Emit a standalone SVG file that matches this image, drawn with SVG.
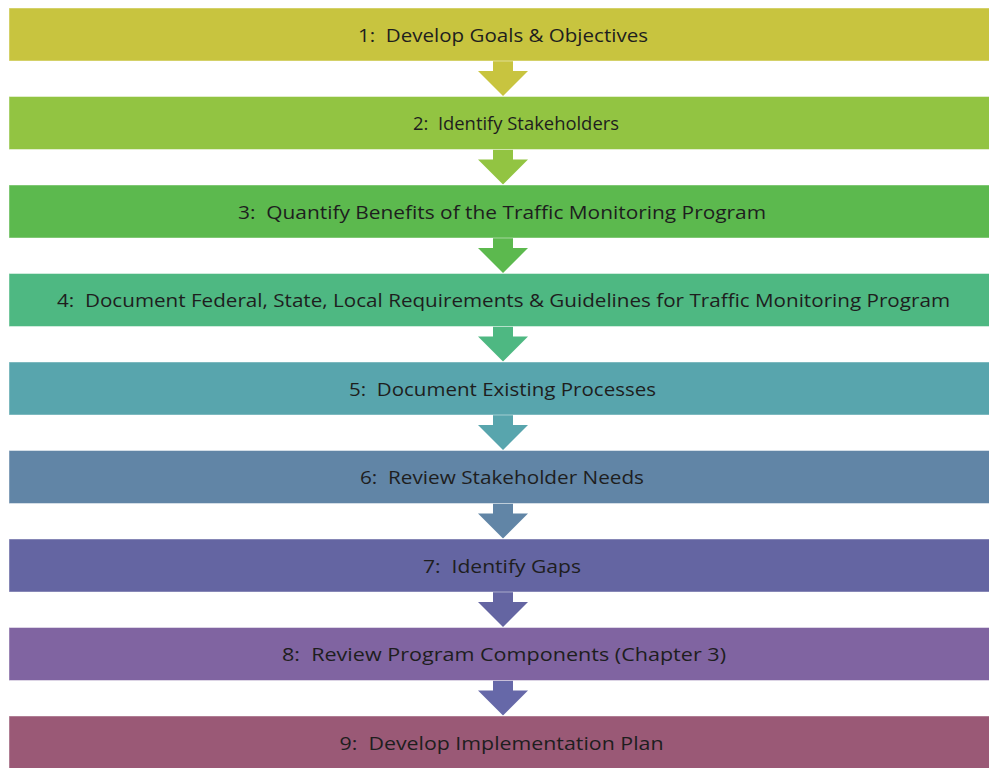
<svg xmlns="http://www.w3.org/2000/svg" width="989" height="768" viewBox="0 0 989 768">
<style>
.bar{stroke:#ffffff;stroke-opacity:0.45;stroke-width:1}
.lbl{font-family:"Open Sans","Liberation Sans",sans-serif;font-size:19px;fill:#1e1e1e;text-anchor:middle;white-space:pre}
</style>
<defs>
<polygon id="arr" points="493,0 513,0 513,10 528,10 503,35 478,10 493,10"/>
</defs>
<rect width="989" height="768" fill="#ffffff"/>
<g id="connectors">
<use href="#arr" y="61" fill="#c8c43f"/>
<use href="#arr" y="149.5" fill="#92c442"/>
<use href="#arr" y="238" fill="#5cb94e"/>
<use href="#arr" y="326.5" fill="#4eb882"/>
<use href="#arr" y="415" fill="#58a5ad"/>
<use href="#arr" y="503.5" fill="#6185a6"/>
<use href="#arr" y="592" fill="#6465a2"/>
<use href="#arr" y="680.5" fill="#6668a8"/>
</g>
<g id="step1"><rect class="bar" x="9" y="8" width="990" height="53" fill="#c8c43f"/><text class="lbl" xml:space="preserve" x="503" y="41.5" textLength="290" lengthAdjust="spacingAndGlyphs">1:  Develop Goals &amp; Objectives</text></g>
<g id="step2"><rect class="bar" x="9" y="96.5" width="990" height="53" fill="#92c442"/><text class="lbl" xml:space="preserve" x="516" y="130" textLength="206" lengthAdjust="spacingAndGlyphs">2:  Identify Stakeholders</text></g>
<g id="step3"><rect class="bar" x="9" y="185" width="990" height="53" fill="#5cb94e"/><text class="lbl" xml:space="preserve" x="502" y="218.5" textLength="528" lengthAdjust="spacingAndGlyphs">3:  Quantify Benefits of the Traffic Monitoring Program</text></g>
<g id="step4"><rect class="bar" x="9" y="273.5" width="990" height="53" fill="#4eb882"/><text class="lbl" xml:space="preserve" x="503.5" y="307" textLength="893" lengthAdjust="spacingAndGlyphs">4:  Document Federal, State, Local Requirements &amp; Guidelines for Traffic Monitoring Program</text></g>
<g id="step5"><rect class="bar" x="9" y="362" width="990" height="53" fill="#58a5ad"/><text class="lbl" xml:space="preserve" x="502.5" y="395.5" textLength="307" lengthAdjust="spacingAndGlyphs">5:  Document Existing Processes</text></g>
<g id="step6"><rect class="bar" x="9" y="450.5" width="990" height="53" fill="#6185a6"/><text class="lbl" xml:space="preserve" x="502" y="484" textLength="284" lengthAdjust="spacingAndGlyphs">6:  Review Stakeholder Needs</text></g>
<g id="step7"><rect class="bar" x="9" y="539" width="990" height="53" fill="#6465a2"/><text class="lbl" xml:space="preserve" x="502" y="572.5" textLength="158" lengthAdjust="spacingAndGlyphs">7:  Identify Gaps</text></g>
<g id="step8"><rect class="bar" x="9" y="627.5" width="990" height="53" fill="#8064a1"/><text class="lbl" xml:space="preserve" x="504" y="661" textLength="444" lengthAdjust="spacingAndGlyphs">8:  Review Program Components (Chapter 3)</text></g>
<g id="step9"><rect class="bar" x="9" y="716" width="990" height="53" fill="#9a5976"/><text class="lbl" xml:space="preserve" x="501.5" y="749.5" textLength="324" lengthAdjust="spacingAndGlyphs">9:  Develop Implementation Plan</text></g>
</svg>
